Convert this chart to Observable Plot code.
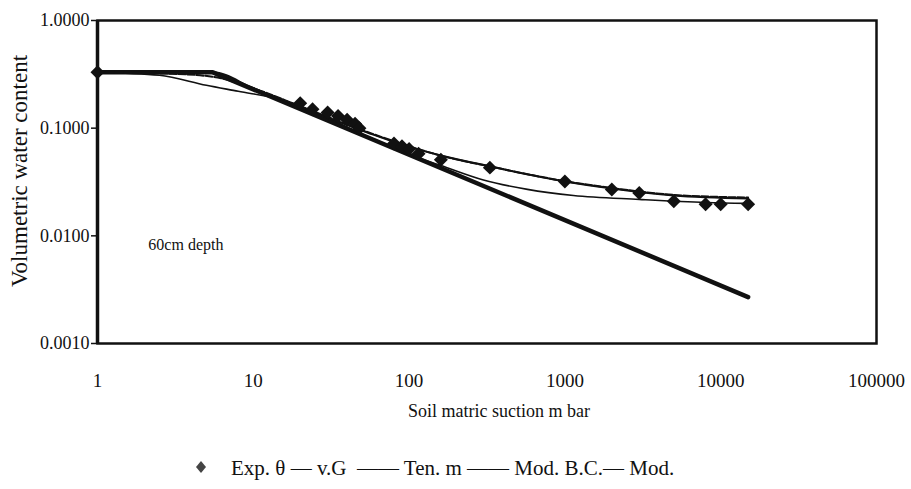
<!DOCTYPE html>
<html>
<head>
<meta charset="utf-8">
<script src="https://cdn.jsdelivr.net/npm/d3@7"></script>
<script src="https://cdn.jsdelivr.net/npm/@observablehq/plot@0.6"></script>
<style>
  html, body { margin: 0; padding: 0; background: #fff; }
  #wrap { position: relative; width: 911px; height: 489px; font-family: "Liberation Serif", serif; color: #111; }
  #legend { position: absolute; left: 0; top: 455px; width: 911px; height: 26px; font-size: 21px; line-height: 26px; }
  #legend .dia { position: absolute; left: 194px; top: 3px; }
  #legend .txt { position: absolute; left: 231px; top: 0; white-space: pre; }
</style>
</head>
<body>
<div id="wrap"><div id="chart"></div><div id="legend"></div></div>
<script>
// Experimental points (Exp. θ)
const expSuction = [1, 20, 24, 30, 35, 40, 45, 48, 80, 90, 100, 115, 160, 330, 1000, 2000, 3000, 5000, 8000, 10000, 15000];
const expTheta   = [0.33, 0.17, 0.15, 0.14, 0.13, 0.12, 0.11, 0.10, 0.072, 0.068, 0.064, 0.058, 0.051, 0.043, 0.032, 0.027, 0.025, 0.021, 0.0196, 0.0196, 0.0196];

// v.G curve
const vgSuction = [1, 2.5, 5, 8, 15, 50, 100, 160, 300, 575, 1135, 3000, 8000, 15000];
const vgTheta   = [0.33, 0.31, 0.25, 0.22, 0.185, 0.0885, 0.057, 0.045, 0.033, 0.027, 0.0237, 0.0218, 0.0204, 0.020];

// Ten. m curve
const tenSuction = [1, 3, 5.5, 10, 20, 54, 100, 160, 333, 1000, 2000, 5000, 15000];
const tenTheta   = [0.33, 0.32, 0.30, 0.235, 0.16, 0.092, 0.068, 0.0555, 0.044, 0.0322, 0.0278, 0.024, 0.0227];

// Mod. B.C. curve
const bcSuction = [1, 5.5, 15000];
const bcTheta   = [0.33, 0.33, 0.0027];

// Mod. curve
const modSuction = [1, 5.5, 10, 20, 54, 100, 160, 333, 1000, 2000, 5000, 15000];
const modTheta   = [0.33, 0.33, 0.235, 0.158, 0.091, 0.067, 0.0558, 0.0441, 0.032, 0.0275, 0.0237, 0.0222];

const xTicks = [1, 10, 100, 1000, 10000, 100000];
const yTicks = [0.001, 0.01, 0.1, 1];
const xTitle = "Soil matric suction m bar";
const yTitle = "Volumetric water content";
const noteText = "60cm depth";
const legendText = "Exp. θ — v.G  —— Ten. m —— Mod. B.C.— Mod.";

const zip = (xs, ys) => xs.map((x, i) => ({x, y: ys[i]}));
const exp = zip(expSuction, expTheta);
const vg = zip(vgSuction, vgTheta);
const ten = zip(tenSuction, tenTheta);
const bc = zip(bcSuction, bcTheta);
const mod = zip(modSuction, modTheta);
const notes = [{x: 2.12, y: 0.0083, text: noteText}];

const chart = Plot.plot({
  width: 911,
  height: 450,
  marginLeft: 97,
  marginRight: 35,
  marginTop: 20,
  marginBottom: 107,
  style: {fontFamily: "Liberation Serif, serif", fontSize: "18px", background: "#fff", color: "#111"},
  x: {type: "log", domain: [1, 100000]},
  y: {type: "log", domain: [0.001, 1]},
  marks: [
    Plot.axisY({ticks: yTicks, tickFormat: d3.format(".4f"), tickSize: 6, tickPadding: 2, label: null, strokeWidth: 1.5}),
    Plot.axisX({ticks: xTicks, tickFormat: d => String(d), tickSize: 0, tickPadding: 30, label: null, fontSize: 19}),
    Plot.line(bc, {x: "x", y: "y", stroke: "#111", strokeWidth: 4.5}),
    Plot.line(vg, {x: "x", y: "y", stroke: "#111", strokeWidth: 1.6, curve: "monotone-x"}),
    Plot.line(mod, {x: "x", y: "y", stroke: "#111", strokeWidth: 2, curve: "monotone-x"}),
    Plot.line(ten, {x: "x", y: "y", stroke: "#111", strokeWidth: 2, strokeDasharray: "7,2", curve: "monotone-x"}),
    Plot.dot(exp, {x: "x", y: "y", symbol: "diamond2", r: 6.3, fill: "#111", stroke: "none"}),
    Plot.text(notes, {x: "x", y: "y", text: "text", textAnchor: "start", fontSize: 16}),
    Plot.frame({stroke: "#111", strokeWidth: 2.5}),
    Plot.ruleX([1], {stroke: "#111", strokeWidth: 3.5}),
    Plot.text([xTitle], {frameAnchor: "bottom", textAnchor: "middle", dx: 12, dy: 73, fontSize: 18}),
    Plot.text([yTitle], {frameAnchor: "left", textAnchor: "middle", dx: -78, dy: -11, rotate: -90, fontSize: 23})
  ]
});
document.getElementById("chart").appendChild(chart);

const legend = document.getElementById("legend");
legend.innerHTML = `<svg class="dia" width="14" height="18" viewBox="-7 -9 14 18"><path d="M0,-6L5,0L0,6L-5,0Z" fill="#444"/></svg><span class="txt"></span>`;
legend.querySelector(".txt").textContent = legendText;
</script>
</body>
</html>
